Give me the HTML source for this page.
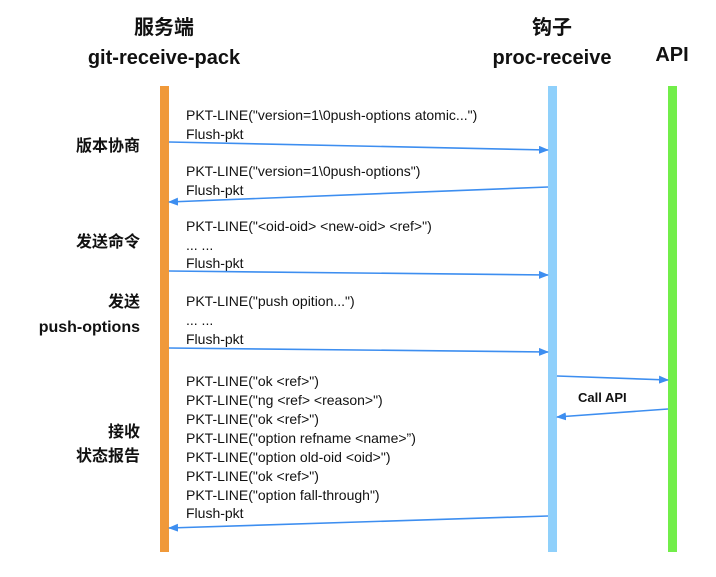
<!DOCTYPE html>
<html><head><meta charset="utf-8"><style>
body{margin:0;background:#fff}
svg text{font-family:"Liberation Sans","Noto Sans CJK SC",sans-serif}
.t{font-size:14px;fill:#111}
.h{font-size:20px;font-weight:bold;fill:#111}
.l{font-size:16px;font-weight:bold;fill:#111}
</style></head><body>
<svg width="716" height="572" viewBox="0 0 716 572" xmlns="http://www.w3.org/2000/svg">
<defs><marker id="a" markerWidth="10" markerHeight="8" refX="9" refY="4" orient="auto" markerUnits="userSpaceOnUse"><path d="M0,0 L10,4 L0,8 Z" fill="#3d8ef0"/></marker></defs>
<rect x="160" y="86" width="9" height="466" fill="#f0993a"/>
<rect x="548" y="86" width="9" height="466" fill="#8fd0fb"/>
<rect x="668" y="86" width="9" height="466" fill="#72ee4a"/>
<text class="h" x="164" y="34" text-anchor="middle">服务端</text>
<text class="h" x="164" y="64" text-anchor="middle">git-receive-pack</text>
<text class="h" x="552" y="34" text-anchor="middle">钩子</text>
<text class="h" x="552" y="64" text-anchor="middle">proc-receive</text>
<text class="h" x="672" y="61" text-anchor="middle">API</text>
<g class="l" text-anchor="end">
<text class="l" x="140" y="151">版本协商</text>
<text class="l" x="140" y="247">发送命令</text>
<text class="l" x="140" y="307">发送</text>
<text class="l" x="140" y="332">push-options</text>
<text class="l" x="140" y="437">接收</text>
<text class="l" x="140" y="461">状态报告</text>
</g>
<g class="t">
<text class="t" x="186" y="120">PKT-LINE("version=1\0push-options atomic...")</text>
<text class="t" x="186" y="139">Flush-pkt</text>
<text class="t" x="186" y="176">PKT-LINE("version=1\0push-options")</text>
<text class="t" x="186" y="195">Flush-pkt</text>
<text class="t" x="186" y="231">PKT-LINE("&lt;oid-oid&gt; &lt;new-oid&gt; &lt;ref&gt;")</text>
<text class="t" x="186" y="250">... ...</text>
<text class="t" x="186" y="268">Flush-pkt</text>
<text class="t" x="186" y="306">PKT-LINE("push opition...")</text>
<text class="t" x="186" y="325">... ...</text>
<text class="t" x="186" y="344">Flush-pkt</text>
<text class="t" x="186" y="386">PKT-LINE("ok &lt;ref&gt;")</text>
<text class="t" x="186" y="405">PKT-LINE("ng &lt;ref&gt; &lt;reason&gt;")</text>
<text class="t" x="186" y="424">PKT-LINE("ok &lt;ref&gt;")</text>
<text class="t" x="186" y="443">PKT-LINE("option refname &lt;name&gt;”)</text>
<text class="t" x="186" y="462">PKT-LINE("option old-oid &lt;oid&gt;")</text>
<text class="t" x="186" y="481">PKT-LINE("ok &lt;ref&gt;")</text>
<text class="t" x="186" y="500">PKT-LINE("option fall-through")</text>
<text class="t" x="186" y="518">Flush-pkt</text>
</g>
<text x="578" y="402" style="font-size:13px;font-weight:bold;fill:#111">Call API</text>
<g stroke="#3d8ef0" stroke-width="1.6" fill="none" marker-end="url(#a)">
<line x1="169" y1="142" x2="548" y2="150"/>
<line x1="548" y1="187" x2="169" y2="202"/>
<line x1="169" y1="271" x2="548" y2="275"/>
<line x1="169" y1="348" x2="548" y2="352"/>
<line x1="557" y1="376" x2="668" y2="380"/>
<line x1="668" y1="409" x2="557" y2="417"/>
<line x1="548" y1="516" x2="169" y2="528"/>
</g>
</svg>
</body></html>
